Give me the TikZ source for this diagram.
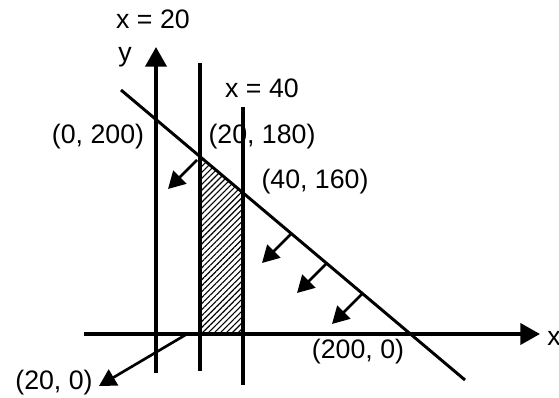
\documentclass[tikz,border=0pt]{standalone}
\usepackage{fontspec}
\setmainfont{Liberation Sans}
\usetikzlibrary{arrows.meta,patterns.meta}

\begin{document}
\begin{tikzpicture}[
    x=0.025cm, y=-0.025cm,
    lbl/.style={font=\fontsize{19}{22}\selectfont, inner sep=0pt},
    axis/.style={line width=2.6pt, -{Triangle[length=14pt,width=15pt]}},
    vline/.style={line width=2.6pt},
    cline/.style={line width=2.1pt},
    arrow/.style={line width=1.9pt, -{Triangle[length=12pt,width=13pt]}},
    region/.style={pattern={Lines[angle=45,distance=3pt,line width=0.8pt]}}
]
\useasboundingbox (0,0) rectangle (559,398);

% Feasible region
\coordinate (ra) at (200,334);
\coordinate (rb) at (243,334);
\coordinate (rc) at (243,193);
\coordinate (rd) at (200,157);
\fill[region] (ra) -- (rb) -- (rc) -- (rd) -- cycle;

% Axes
\coordinate (xl) at (84,334);
\coordinate (xr) at (540,334);
\coordinate (yb) at (156,373);
\coordinate (yt) at (156,47);
\draw[axis] (xl) -- (xr);
\draw[axis] (yb) -- (yt);

% Lines x = 20 and x = 40
\coordinate (p20b) at (200,371);
\coordinate (p20t) at (200,63);
\coordinate (p40b) at (243,385);
\coordinate (p40t) at (243,107);
\draw[vline] (p20b) -- (p20t);
\draw[vline] (p40b) -- (p40t);

% Line x + y = 200
\coordinate (lt) at (121,90);
\coordinate (lb) at (465,380);
\draw[cline] (lt) -- (lb);

% Direction arrows
\coordinate (s1) at (197,160);
\coordinate (e1) at (168,189);
\coordinate (s2) at (291,234);
\coordinate (e2) at (262,263);
\coordinate (s3) at (326,264);
\coordinate (e3) at (297,293);
\coordinate (s4) at (362,294);
\coordinate (e4) at (332,324);
\draw[arrow] (s1) -- (e1);
\draw[arrow] (s2) -- (e2);
\draw[arrow] (s3) -- (e3);
\draw[arrow] (s4) -- (e4);
\coordinate (zs) at (187,334);
\coordinate (ze) at (99,386);
\draw[arrow] (zs) -- (ze);

% Labels
\node[lbl] (lblx20) at (153,19) {x = 20};
\node[lbl] (lbly) at (125,57) {y};
\node[lbl] (lblx40) at (262,88) {x = 40};
\node[lbl] (lblp0) at (98,137) {(0, 200)};
\node[lbl] (lblp20) at (262,137) {(20, 180)};
\node[lbl] (lblp40) at (315,182) {(40, 160)};
\node[lbl] (lblp200) at (358,352) {(200, 0)};
\node[lbl] (lblz) at (54,383) {(20, 0)};
\node[lbl, anchor=west] (lblx) at (547,338) {x};

\end{tikzpicture}
\end{document}
